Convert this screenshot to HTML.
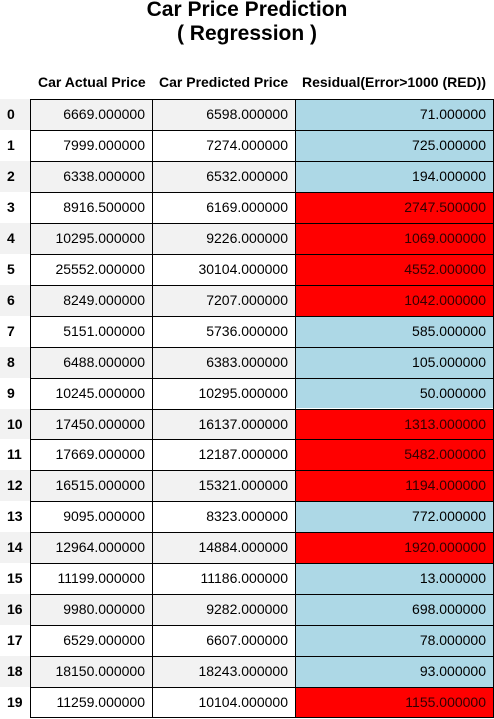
<!DOCTYPE html>
<html><head><meta charset="utf-8"><style>
body{margin:0;width:494px;height:719px;background:#fff;position:relative;overflow:hidden;font-family:"Liberation Sans",Arial,sans-serif;color:#000}
.t{position:absolute;left:0;width:494px;text-align:center;font-weight:bold;font-size:21px;line-height:25px}
.h{position:absolute;top:74px;font-weight:bold;font-size:14px;white-space:nowrap}
.c{position:absolute;box-sizing:border-box;font-size:14px;text-align:right;padding-right:7px;white-space:nowrap}
.i{position:absolute;font-weight:bold;font-size:14px;left:7px}
.line{position:absolute;background:#000}
</style></head><body>
<div class="t" style="top:-3px">Car Price Prediction</div>
<div class="t" style="top:21px">( Regression )</div>
<div class="h" style="left:38px">Car Actual Price</div>
<div class="h" style="left:159px">Car Predicted Price</div>
<div class="h" style="left:302px">Residual(Error&gt;1000 (RED))</div>
<div id="tbl"></div>
<script>
const actual=[6669,7999,6338,8916.5,10295,25552,8249,5151,6488,10245,17450,17669,16515,9095,12964,11199,9980,6529,18150,11259];
const predicted=[6598,7274,6532,6169,9226,30104,7207,5736,6383,10295,16137,12187,15321,8323,14884,11186,9282,6607,18243,10104];
const residual=[71,725,194,2747.5,1069,4552,1042,585,105,50,1313,5482,1194,772,1920,13,698,78,93,1155];
const threshold=1000;
const tbl=document.getElementById('tbl');
const top0=99, rh=30.95, xs=[30,152,295,493];
function add(cls,style,text){const d=document.createElement('div');d.className=cls;d.style.cssText=style;if(text!==undefined)d.textContent=text;tbl.appendChild(d);return d;}
for(let r=0;r<actual.length;r++){
  const y=top0+r*rh;
  const grey=r%2===0?'#f2f2f2':'#fff';
  const bgI=add('c',`left:0;top:${y}px;width:30px;height:${rh}px;background:${grey}`);
  
  
  const idx=add('i',`top:${y+7}px`,String(r));
  
  
  const vals=[actual[r],predicted[r],residual[r]];
  const names=['actual-price-cell','predicted-price-cell','residual-cell'];
  for(let c=0;c<3;c++){
    let bg=grey;
    if(c===2) bg=residual[r]>threshold?'#ff0000':'#add8e6';
    const cell=add('c',`left:${xs[c]}px;top:${y}px;width:${xs[c+1]-xs[c]}px;height:${rh}px;background:${bg};line-height:${rh}px;color:${c===2&&residual[r]>threshold?'#300':'#000'}`,vals[c].toFixed(6));
    
    
  }
  const hl=add('line',`left:30px;top:${y}px;width:463px;height:1px`);
  
  
}
const bl=add('line',`left:30px;top:${top0+actual.length*rh-1}px;width:463px;height:1px`);


for(const x of xs){
  const vl=add('line',`left:${x}px;top:${top0}px;width:1px;height:${actual.length*rh}px`);
  
  
}
</script>
</body></html>
